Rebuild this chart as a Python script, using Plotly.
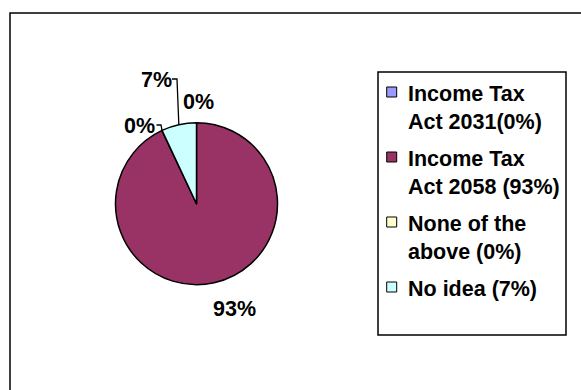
import math
import plotly.graph_objects as go

# Survey responses: which act governs income tax
labels = ["Income Tax<br>Act 2031(0%)", "Income Tax<br>Act 2058 (93%)",
          "None of the<br>above (0%)", "No idea (7%)"]
values = [0, 93, 0, 7]
colors = ["#9999FF", "#993366", "#FFFFCC", "#CCFFFF"]

W, H = 581, 390
FONT = "Liberation Sans, Arial, sans-serif"
FSIZE = 21.5

def px(x):
    return x / W

def py(y):
    return 1 - y / H

# pie geometry (pixels)
cx, cy, r = 196.5, 203.7, 81.0

# slice label anchor points (pixels), one per slice
label_pos = [(198, 102.5), (234, 308.5), (139.5, 126), (156, 80.5)]

# legend layout (pixels)
leg_box = (378, 72, 566, 335)
leg_top, leg_pitch = 95.0, 65.0      # first text line centre, entry spacing
leg_sym_x, leg_txt_x = 386.7, 406.5
leg_line_h = FSIZE * 1.3

total = sum(values)

def edge_point(frac):
    """Point on the pie rim at cumulative fraction frac (clockwise from 12 o'clock)."""
    a = 2 * math.pi * frac
    return cx + r * math.sin(a), cy - r * math.cos(a)

fig = go.Figure()
fig.add_trace(go.Pie(
    labels=labels,
    values=values,
    sort=False,
    direction="clockwise",
    rotation=0,
    textinfo="none",
    hoverinfo="label+percent",
    marker=dict(colors=colors, line=dict(color="black", width=1.5)),
    domain=dict(x=[px(cx - r), px(cx + r)], y=[py(cy + r), py(cy - r)]),
    showlegend=False,
))

annotations = []
shapes = []
bold = dict(family=FONT, size=FSIZE, color="black", weight="bold")

# percentage labels
cum = 0
mids = []
for v, (lx, ly) in zip(values, label_pos):
    mids.append((cum + v / 2) / total)
    cum += v
    annotations.append(dict(
        x=px(lx), y=py(ly), xref="paper", yref="paper",
        text=f"{round(100 * v / total)}%", showarrow=False,
        xanchor="center", yanchor="middle", font=bold,
    ))

# leader line for "No idea" label
ex, ey = edge_point(mids[3])
lx, ly = label_pos[3]
path = f"M{px(lx + 16)},{py(ly - 1.5)} L{px(lx + 21)},{py(ly - 1.5)} L{px(ex)},{py(ey)}"
shapes.append(dict(type="path", xref="paper", yref="paper", path=path,
                   line=dict(color="black", width=1.3)))

# leader line for "None of the above" label
ex, ey = edge_point(mids[2])
lx, ly = label_pos[2]
path = f"M{px(lx + 17)},{py(ly - 1)} L{px(lx + 21.5)},{py(ly - 1)} L{px(ex)},{py(ey)}"
shapes.append(dict(type="path", xref="paper", yref="paper", path=path,
                   line=dict(color="black", width=1.3)))

# chart area frame
shapes.append(dict(type="rect", xref="paper", yref="paper",
                   x0=px(10), x1=px(640), y0=py(450), y1=py(13),
                   line=dict(color="black", width=1.5), fillcolor="rgba(0,0,0,0)"))

# legend frame
bx0, by0, bx1, by1 = leg_box
shapes.append(dict(type="rect", xref="paper", yref="paper",
                   x0=px(bx0), x1=px(bx1), y0=py(by1), y1=py(by0),
                   line=dict(color="black", width=1.5), fillcolor="rgba(0,0,0,0)"))

# legend entries: swatch + label
for i, (lab, col) in enumerate(zip(labels, colors)):
    yc = leg_top + i * leg_pitch
    shapes.append(dict(type="rect", xref="paper", yref="paper",
                       x0=px(leg_sym_x), x1=px(leg_sym_x + 10),
                       y0=py(yc + 2), y1=py(yc - 8),
                       line=dict(color="black", width=1), fillcolor=col))
    annotations.append(dict(
        x=px(leg_txt_x), y=py(yc - leg_line_h / 2), xref="paper", yref="paper",
        text=lab, showarrow=False, xanchor="left", yanchor="top", align="left",
        font=bold, borderpad=0,
    ))

fig.update_layout(
    width=W, height=H,
    margin=dict(l=0, r=0, t=0, b=0),
    paper_bgcolor="white",
    plot_bgcolor="white",
    annotations=annotations,
    shapes=shapes,
    showlegend=False,
)

fig.write_html("out.html")
